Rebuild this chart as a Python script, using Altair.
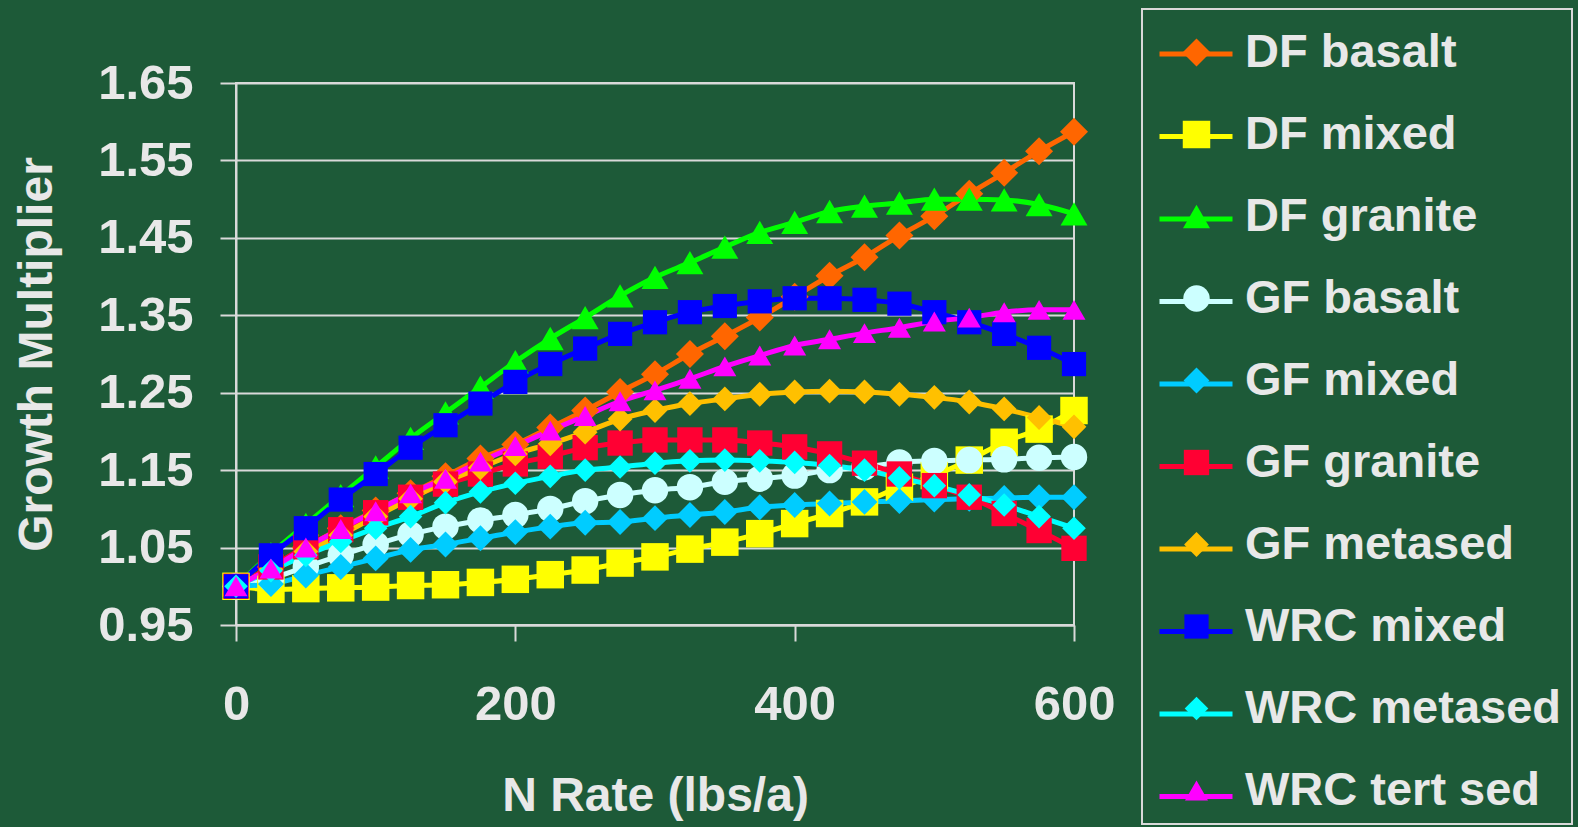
import altair as alt
import pandas as pd

# N application rate (lbs/a), one reading every 25
n_rate = list(range(0, 601, 25))

series_names = ["DF basalt", "DF mixed", "DF granite", "GF basalt", "GF mixed",
                "GF granite", "GF metased", "WRC mixed", "WRC metased", "WRC tert sed"]
series_colors = ["#FF6600", "#FFFF00", "#00FF00", "#CCFFFF", "#00CCFF",
                 "#FF0033", "#FFC000", "#0000FF", "#00FFFF", "#FF00FF"]
series_shapes = ["diamond", "square", "triangle-up", "circle", "diamond",
                 "square", "diamond", "square", "diamond", "triangle-up"]
series_sizes = [784, 530, 900, 700, 784, 530, 784, 530, 784, 900]

df_basalt = [1.000, 1.025, 1.050, 1.075, 1.098, 1.120, 1.142, 1.165, 1.183, 1.205, 1.227, 1.251, 1.274,
             1.300, 1.323, 1.347, 1.374, 1.401, 1.425, 1.453, 1.478, 1.507, 1.534, 1.562, 1.587]
df_mixed = [1.000, 0.996, 0.997, 0.998, 0.999, 1.001, 1.002, 1.005, 1.009, 1.015, 1.021, 1.030, 1.038,
            1.048, 1.057, 1.068, 1.081, 1.094, 1.109, 1.128, 1.143, 1.163, 1.186, 1.203, 1.227]
df_granite = [1.000, 1.042, 1.080, 1.117, 1.154, 1.191, 1.224, 1.257, 1.290, 1.320, 1.347, 1.375, 1.399,
              1.418, 1.438, 1.457, 1.470, 1.484, 1.491, 1.495, 1.500, 1.500, 1.499, 1.493, 1.481]
gf_basalt = [1.000, 1.010, 1.025, 1.040, 1.054, 1.067, 1.077, 1.085, 1.092, 1.100, 1.110, 1.118, 1.124,
             1.128, 1.135, 1.139, 1.143, 1.150, 1.154, 1.160, 1.162, 1.163, 1.164, 1.166, 1.167]
gf_mixed = [1.000, 1.003, 1.014, 1.025, 1.036, 1.047, 1.054, 1.062, 1.070, 1.077, 1.082, 1.083, 1.088,
            1.092, 1.096, 1.102, 1.105, 1.107, 1.109, 1.110, 1.112, 1.113, 1.114, 1.115, 1.115]
gf_granite = [1.000, 1.025, 1.051, 1.073, 1.095, 1.115, 1.132, 1.145, 1.158, 1.168, 1.179, 1.185, 1.189,
              1.189, 1.189, 1.185, 1.180, 1.171, 1.159, 1.145, 1.130, 1.115, 1.094, 1.072, 1.049]
gf_metased = [1.000, 1.022, 1.045, 1.066, 1.090, 1.113, 1.135, 1.153, 1.171, 1.184, 1.199, 1.216, 1.227,
              1.236, 1.242, 1.248, 1.251, 1.252, 1.251, 1.248, 1.244, 1.238, 1.229, 1.218, 1.206]
wrc_mixed = [1.000, 1.040, 1.075, 1.112, 1.145, 1.179, 1.208, 1.236, 1.264, 1.287, 1.307, 1.326, 1.341,
             1.354, 1.362, 1.368, 1.372, 1.372, 1.370, 1.365, 1.354, 1.341, 1.326, 1.308, 1.287]
wrc_metased = [1.000, 1.020, 1.040, 1.058, 1.075, 1.090, 1.108, 1.122, 1.133, 1.142, 1.150, 1.154, 1.159,
               1.162, 1.163, 1.162, 1.160, 1.156, 1.150, 1.140, 1.130, 1.118, 1.105, 1.090, 1.075]
wrc_tert_sed = [1.000, 1.023, 1.050, 1.074, 1.097, 1.120, 1.139, 1.161, 1.181, 1.201, 1.220, 1.239, 1.253,
                1.268, 1.284, 1.298, 1.311, 1.319, 1.327, 1.334, 1.342, 1.347, 1.354, 1.357, 1.357]

y_ticks = [0.95, 1.05, 1.15, 1.25, 1.35, 1.45, 1.55, 1.65]
x_ticks = [0, 200, 400, 600]

all_series = [df_basalt, df_mixed, df_granite, gf_basalt, gf_mixed,
              gf_granite, gf_metased, wrc_mixed, wrc_metased, wrc_tert_sed]

rows = []
for name, values in zip(series_names, all_series):
    for rate, v in zip(n_rate, values):
        rows.append({"n_rate": rate, "multiplier": v, "series": name, "series_l": name})
data = pd.DataFrame(rows)

FONT = "Liberation Sans"
TEXT = "#E8E8E8"
GRID = "#D9D9D9"
BG = "#1D5A38"

x_enc = alt.X(
    "n_rate:Q",
    scale=alt.Scale(domain=[0, 600], nice=False),
    axis=alt.Axis(
        values=x_ticks, title="N Rate (lbs/a)", grid=False,
        tickSize=16, tickWidth=2, tickColor=GRID, domainColor=GRID, domainWidth=2,
        labelFont=FONT, labelFontWeight="bold", labelFontSize=49, labelColor=TEXT,
        labelPadding=39, labelFlush=False,
        titleFont=FONT, titleFontWeight="bold", titleFontSize=48, titleColor=TEXT,
        titleX=419, titleY=185, titleAlign="center", titleBaseline="alphabetic",
    ),
)
y_enc = alt.Y(
    "multiplier:Q",
    scale=alt.Scale(domain=[0.95, 1.65], nice=False, zero=False),
    axis=alt.Axis(
        values=y_ticks, format=".2f", title="Growth Multiplier",
        grid=True, gridColor=GRID, gridWidth=2, gridOpacity=1,
        tickSize=16, tickWidth=2, tickColor=GRID, domainColor=GRID, domainWidth=2,
        labelFont=FONT, labelFontWeight="bold", labelFontSize=49, labelColor=TEXT,
        labelPadding=27, labelFlush=False,
        titleFont=FONT, titleFontWeight="bold", titleFontSize=48, titleColor=TEXT,
        titleX=-185, titleY=271, titleAngle=270, titleAlign="center", titleBaseline="alphabetic",
    ),
)

legend_common = dict(
    title=" ", titleFontSize=2, titlePadding=8,
    orient="none", direction="vertical", columns=1,
    labelFont=FONT, labelFontWeight="bold", labelFontSize=47, labelLimit=600,
    padding=10,
)

# stroke-only legend without text: the connecting line behind each entry's marker
line_legend = alt.Legend(
    legendX=911, legendY=-88, symbolType="stroke", symbolSize=5329, symbolStrokeWidth=5,
    symbolOffset=0, labelExpr="''", labelColor=TEXT, rowPadding=20.5, zindex=0,
    **legend_common,
)
# marker legend with the visible labels and the framing box
point_legend = alt.Legend(
    legendX=906, legendY=-74, symbolOffset=21, labelOffset=25, labelColor=TEXT,
    symbolSize=650, symbolOpacity=1, symbolStrokeWidth=0, rowPadding=34,
    strokeColor=GRID, zindex=1, **legend_common,
)

color_scale = alt.Scale(domain=series_names, range=series_colors)

lines = alt.Chart(data).mark_line(strokeWidth=5, interpolate="monotone").encode(
    x=x_enc, y=y_enc,
    color=alt.Color("series_l:N", scale=color_scale, sort=series_names, legend=line_legend),
)
points = alt.Chart(data).mark_point(filled=True, opacity=1, strokeWidth=0).encode(
    x=x_enc, y=y_enc,
    color=alt.Color("series:N", scale=color_scale, sort=series_names, legend=point_legend),
    shape=alt.Shape("series:N", scale=alt.Scale(domain=series_names, range=series_shapes),
                    sort=series_names, legend=point_legend),
    size=alt.Size("series:N", scale=alt.Scale(domain=series_names, range=series_sizes),
                  sort=series_names, legend=None),
)

chart = (
    alt.layer(lines, points)
    .resolve_scale(color="independent", shape="independent", size="independent")
    .properties(
        width=838, height=542,
        autosize=alt.AutoSizeParams(type="none"),
        padding={"left": 236, "top": 83, "right": 504, "bottom": 202},
    )
    .configure(background=BG)
    .configure_view(stroke=GRID, strokeWidth=2)
    .configure_legend(strokeWidth=2)
)

chart.save("out.html", embed_options={"renderer": "svg", "actions": False})
